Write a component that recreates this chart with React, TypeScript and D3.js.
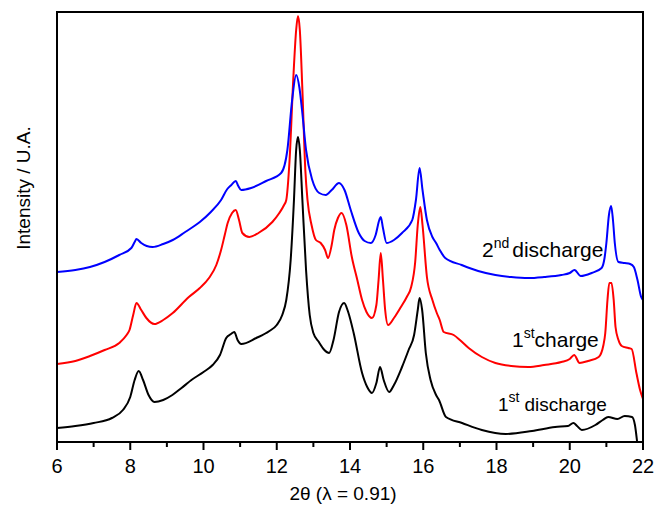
import React from "react";
import * as d3 from "d3";

const twoThetaBlack = [6.0,6.5,7.0,7.5,7.8,8.0,8.12,8.23,8.35,8.5,8.66,8.9,9.15,9.4,9.67,10.0,10.25,10.45,10.62,10.75,10.84,10.93,11.03,11.44,11.8,12.0,12.15,12.26,12.38,12.47,12.53,12.58,12.63,12.7,12.8,12.9,13.0,13.15,13.3,13.43,13.55,13.7,13.84,13.95,14.1,14.33,14.47,14.6,14.72,14.82,14.92,15.07,15.2,15.42,15.6,15.75,15.85,15.9,15.97,16.07,16.2,16.35,16.43,16.62,17.06,17.6,18.25,18.97,19.6,19.95,20.1,20.2,20.33,20.7,20.9,21.05,21.3,21.5,21.7,21.78,21.85,21.9];
const intensityBlack = [14,16,19,24,32,45,62,71,62,47,40,42,47,54,62,70,77,87,104,108,110,102,98,104,111,117,127,142,182,242,292,305,292,242,172,127,109,100,92,89,102,130,139,130,109,69,55,49,59,75,62,50,57,75,92,107,132,144,132,89,62,47,42,25,19,12,8,11,15,16,19,16,12,17,22,25,23,26,25,17,-3,-18];

const twoThetaRed = [6.0,6.5,6.9,7.3,7.7,7.9,7.98,8.08,8.17,8.3,8.44,8.66,8.9,9.16,9.6,9.9,10.15,10.35,10.48,10.58,10.66,10.78,10.88,10.97,11.06,11.25,11.5,11.88,12.07,12.2,12.26,12.35,12.45,12.53,12.58,12.63,12.7,12.78,12.84,12.95,13.07,13.2,13.32,13.4,13.5,13.57,13.67,13.77,13.9,14.05,14.2,14.33,14.45,14.6,14.72,14.78,14.84,14.9,14.96,15.04,15.2,15.39,15.55,15.67,15.78,15.85,15.92,15.98,16.1,16.25,16.37,16.45,16.56,16.83,17.0,17.24,17.6,17.97,18.4,18.87,19.3,19.77,20.0,20.12,20.27,20.5,20.79,20.92,20.97,21.03,21.08,21.14,21.2,21.25,21.33,21.42,21.6,21.69,21.82,21.92,22.0];
const intensityRed = [78,81,86,92,99,107,112,127,139,132,124,118,122,129,145,154,164,177,192,207,219,229,232,222,209,205,209,220,229,237,242,282,362,412,426,412,352,272,242,217,202,199,192,184,197,212,224,229,217,185,162,142,130,124,137,162,189,162,132,117,124,135,145,155,180,217,235,217,165,142,129,122,110,107,102,94,85,79,76,75,77,80,83,87,79,81,85,97,109,142,159,159,142,115,102,96,94,93,69,52,43];

const twoThetaBlue = [6.0,6.5,6.9,7.3,7.7,8.03,8.12,8.17,8.3,8.45,8.61,8.9,9.16,9.5,9.9,10.2,10.48,10.65,10.76,10.88,10.95,11.03,11.3,11.71,12.12,12.29,12.42,12.53,12.62,12.69,12.8,12.97,13.16,13.34,13.5,13.7,13.85,14.02,14.24,14.4,14.57,14.7,14.8,14.84,14.9,15.0,15.2,15.42,15.7,15.8,15.9,15.98,16.1,16.25,16.35,16.45,16.6,17.05,17.5,17.97,18.4,18.87,19.3,19.77,20.0,20.13,20.3,20.6,20.87,20.95,21.0,21.07,21.13,21.18,21.23,21.33,21.5,21.65,21.75,21.85,21.95,22.0];
const intensityBlue = [170,172,175,180,187,194,200,203,199,196,195,198,202,210,220,230,242,253,257,261,256,252,254,261,269,292,342,367,354,332,292,262,249,247,252,259,252,232,209,201,199,207,222,225,214,199,202,209,222,242,274,252,222,205,199,192,184,177,171,167,165,164,165,167,169,172,166,169,174,184,199,227,236,222,199,180,179,178,175,162,145,142];

const xTicks = [6, 8, 10, 12, 14, 16, 18, 20, 22];
const xMinorTicks = [7, 9, 11, 13, 15, 17, 19, 21];

const seriesNames = ["1st discharge", "1st charge", "2nd discharge"];
const seriesColors = ["#000000", "#ff0000", "#0000ff"];

const W = 654, H = 507;
const left = 57, right = 643, top = 12, bottom = 442;
const FONT = "'Liberation Sans', Arial, Helvetica, sans-serif";

export default function App() {
  const x = d3.scaleLinear().domain([6, 22]).range([left, right]);
  const y = d3.scaleLinear().domain([0, 430]).range([bottom, top]);
  const line = d3
    .line<[number, number]>()
    .x((d) => x(d[0]))
    .y((d) => y(d[1]))
    .curve(d3.curveMonotoneX);

  const series = [
    { name: seriesNames[0], color: seriesColors[0], data: twoThetaBlack.map((t, i) => [t, intensityBlack[i]] as [number, number]) },
    { name: seriesNames[1], color: seriesColors[1], data: twoThetaRed.map((t, i) => [t, intensityRed[i]] as [number, number]) },
    { name: seriesNames[2], color: seriesColors[2], data: twoThetaBlue.map((t, i) => [t, intensityBlue[i]] as [number, number]) },
  ];

  const labels = [
    { pre: "1", sup: "st", post: "discharge", lx: 498, ly: 411, gap: 5, fs: 19 },
    { pre: "1", sup: "st", post: "charge", lx: 512, ly: 347, gap: 0, fs: 21 },
    { pre: "2", sup: "nd", post: "discharge", lx: 482, ly: 257, gap: 3, fs: 21 },
  ];

  return (
    <svg width={W} height={H} style={{ position: "absolute", left: 0, top: 0, background: "#fff" }} fontFamily={FONT}>
      <defs>
        <clipPath id="plotclip">
          <rect x={left} y={top} width={right - left} height={bottom - top} />
        </clipPath>
      </defs>
      <rect x={0} y={0} width={W} height={H} fill="#fff" />
      <g clipPath="url(#plotclip)">
        {series.map((s) => (
          <path key={s.name} d={line(s.data) || ""} fill="none" stroke={s.color} strokeWidth={2} strokeLinejoin="round" />
        ))}
      </g>
      <rect x={left} y={top} width={right - left} height={bottom - top} fill="none" stroke="#000" strokeWidth={2} />
      {xTicks.map((t) => (
        <g key={"M" + t}>
          <line x1={x(t)} x2={x(t)} y1={bottom} y2={bottom + 8} stroke="#000" strokeWidth={2} />
          <text x={x(t)} y={473} textAnchor="middle" fontSize={20} fill="#000">{t}</text>
        </g>
      ))}
      {xMinorTicks.map((t) => (
        <line key={"m" + t} x1={x(t)} x2={x(t)} y1={bottom} y2={bottom + 5} stroke="#000" strokeWidth={2} />
      ))}
      <text x={343} y={500} textAnchor="middle" fontSize={19} fill="#000">2θ (λ = 0.91)</text>
      <text transform="translate(30,188) rotate(-90)" textAnchor="middle" fontSize={19} fill="#000">Intensity / U.A.</text>
      {labels.map((l) => (
        <text key={l.pre + l.sup + l.post} x={l.lx} y={l.ly} fontSize={l.fs} fill="#000">
          <tspan>{l.pre}</tspan>
          <tspan fontSize={14} dy={-9}>{l.sup}</tspan>
          <tspan dy={9} dx={l.gap}>{l.post}</tspan>
        </text>
      ))}
    </svg>
  );
}
